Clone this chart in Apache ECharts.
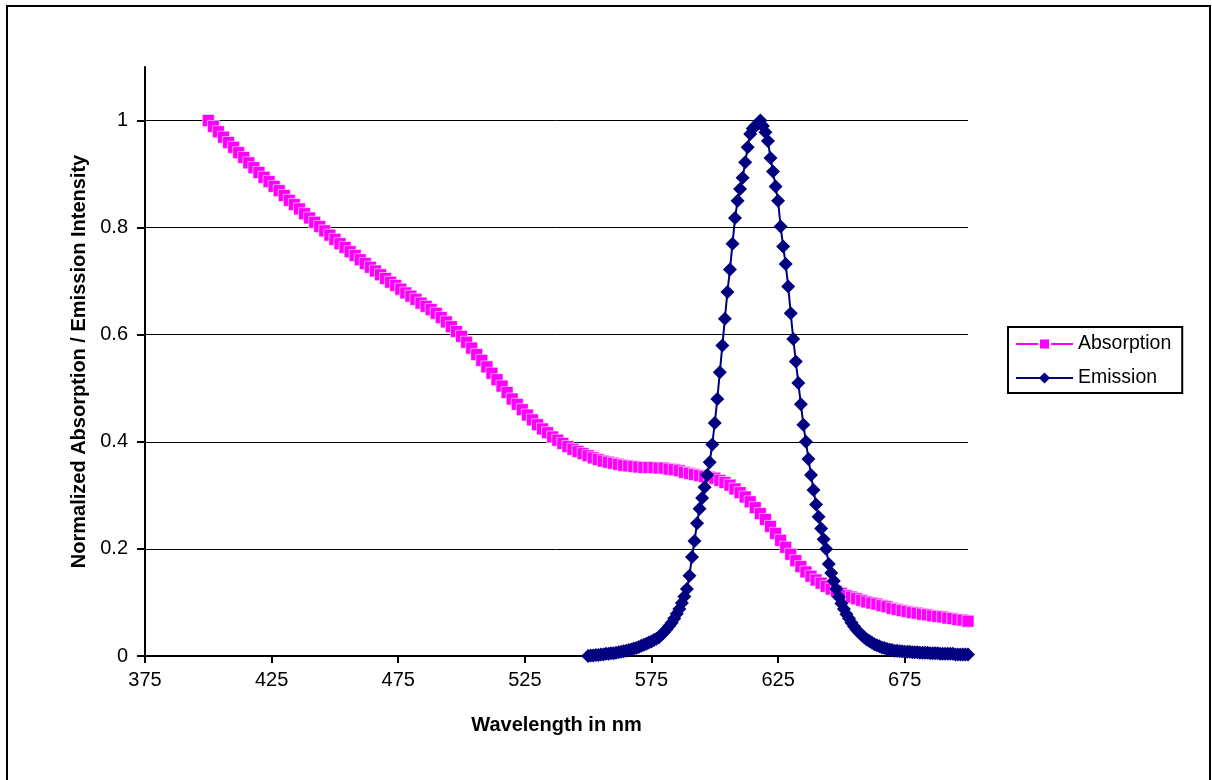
<!DOCTYPE html>
<html>
<head>
<meta charset="utf-8">
<script src="https://cdn.jsdelivr.net/npm/echarts@6/dist/echarts.min.js"></script>
<style>
html,body{margin:0;padding:0;background:#fff;}
#chart{width:1212px;height:780px;}
</style>
</head>
<body>
<div id="chart"></div>
<script>
// Absorption: sampled every 2 nm from 400 nm
const absStart = 400, absStep = 2;
const absorption = [
  1.000,0.989,0.979,0.969,0.959,0.950,0.940,0.931,0.921,0.912,
  0.903,0.894,0.886,0.877,0.869,0.860,0.851,0.843,0.835,0.826,
  0.818,0.810,0.802,0.794,0.786,0.778,0.770,0.763,0.755,0.748,
  0.740,0.733,0.726,0.719,0.712,0.705,0.698,0.692,0.685,0.678,
  0.672,0.666,0.659,0.653,0.647,0.640,0.632,0.624,0.615,0.606,
  0.597,0.586,0.575,0.563,0.552,0.540,0.528,0.516,0.504,0.492,
  0.480,0.470,0.460,0.450,0.441,0.432,0.424,0.417,0.409,0.403,
  0.397,0.391,0.386,0.382,0.378,0.374,0.370,0.367,0.364,0.362,
  0.360,0.358,0.356,0.355,0.354,0.353,0.352,0.352,0.352,0.351,
  0.351,0.349,0.348,0.346,0.343,0.341,0.339,0.337,0.335,0.334,
  0.332,0.328,0.324,0.319,0.312,0.305,0.297,0.288,0.277,0.266,
  0.255,0.242,0.229,0.216,0.203,0.190,0.178,0.167,0.157,0.149,
  0.142,0.136,0.130,0.125,0.121,0.117,0.113,0.110,0.107,0.104,
  0.101,0.099,0.097,0.094,0.092,0.089,0.087,0.085,0.083,0.081,
  0.080,0.078,0.077,0.075,0.074,0.073,0.071,0.070,0.068,0.067,
  0.065
];
// Emission: sampled every 1 nm from 550 nm
const emStart = 550, emStep = 1;
const emission = [
  0.000,0.001,0.001,0.002,0.002,0.003,0.003,0.004,0.004,0.005,
  0.005,0.006,0.007,0.008,0.009,0.010,0.011,0.012,0.014,0.015,
  0.017,0.019,0.021,0.023,0.025,0.027,0.030,0.032,0.035,0.040,
  0.045,0.050,0.056,0.062,0.070,0.079,0.088,0.099,0.111,0.125,
  0.150,0.185,0.215,0.248,0.275,0.295,0.315,0.338,0.362,0.395,
  0.435,0.480,0.530,0.580,0.630,0.680,0.722,0.770,0.818,0.850,
  0.872,0.893,0.922,0.950,0.975,0.985,0.990,0.994,1.000,0.990,
  0.978,0.962,0.930,0.905,0.877,0.850,0.802,0.765,0.732,0.690,
  0.640,0.592,0.550,0.510,0.470,0.432,0.400,0.368,0.338,0.310,
  0.283,0.260,0.238,0.218,0.200,0.172,0.155,0.140,0.125,0.110,
  0.098,0.088,0.078,0.070,0.062,0.055,0.049,0.044,0.039,0.035,
  0.031,0.028,0.025,0.022,0.020,0.018,0.016,0.015,0.013,0.012,
  0.011,0.010,0.010,0.009,0.009,0.008,0.008,0.008,0.007,0.007,
  0.007,0.006,0.006,0.006,0.006,0.005,0.005,0.005,0.005,0.004,
  0.004,0.004,0.004,0.004,0.004,0.003,0.003,0.003,0.003,0.003,
  0.003
];
const xTicks = [375, 425, 475, 525, 575, 625, 675];
const yTicks = [0, 0.2, 0.4, 0.6, 0.8, 1];
const seriesNames = ['Absorption', 'Emission'];

const absData = absorption.map((v, i) => [absStart + i * absStep, v]);
const emData = emission.map((v, i) => [emStart + i * emStep, v]);

const FONT = '"Liberation Sans", Arial, sans-serif';
const chart = echarts.init(document.getElementById('chart'), null, {renderer: 'canvas'});
chart.setOption({
  animation: false,
  backgroundColor: '#ffffff',
  graphic: [{
    type: 'rect',
    shape: {x: 7, y: 6, width: 1203, height: 820},
    style: {fill: 'none', stroke: '#000', lineWidth: 2},
    silent: true, z: -1
  }],
  grid: {left: 145, right: 244, top: 67, bottom: 124, containLabel: false, outerBoundsMode: 'none'},
  legend: {
    orient: 'vertical',
    left: 1008, top: 327,
    padding: [7, 11, 5, 7],
    itemGap: 14,
    itemWidth: 57, itemHeight: 14,
    borderColor: '#000', borderWidth: 2,
    textStyle: {fontFamily: FONT, fontSize: 19.5, color: '#000'},
    data: seriesNames
  },
  xAxis: {
    type: 'value',
    min: 375, max: 700, interval: 50,
    name: 'Wavelength in nm',
    nameLocation: 'middle', nameGap: 59,
    nameTextStyle: {fontFamily: FONT, fontSize: 20, fontWeight: 'bold', color: '#000'},
    axisLine: {show: true, onZero: false, lineStyle: {color: '#000', width: 2}},
    axisTick: {show: true, length: 7, lineStyle: {color: '#000', width: 2}, customValues: xTicks},
    axisLabel: {fontFamily: FONT, fontSize: 20, color: '#000', margin: 14, customValues: xTicks},
    splitLine: {show: false}
  },
  yAxis: {
    type: 'value',
    min: 0, max: 1.1, interval: 0.2,
    name: 'Normalized Absorption / Emission Intensity',
    nameLocation: 'middle', nameGap: 51,
    nameTextStyle: {fontFamily: FONT, fontSize: 20, fontWeight: 'bold', color: '#000'},
    axisLine: {show: true, lineStyle: {color: '#000', width: 2}},
    axisTick: {show: true, length: 8, lineStyle: {color: '#000', width: 2}, customValues: yTicks},
    axisLabel: {fontFamily: FONT, fontSize: 20, color: '#000', margin: 17, customValues: yTicks},
    splitLine: {show: true, showMinLine: false, lineStyle: {color: '#000', width: 1}}
  },
  series: [
    {
      name: seriesNames[0],
      type: 'line',
      data: absData,
      symbol: 'rect',
      symbolSize: 12,
      showAllSymbol: true,
      lineStyle: {color: '#FF00FF', width: 2},
      itemStyle: {color: '#FF00FF', borderColor: '#FFFFFF', borderWidth: 0.6},
      emphasis: {disabled: true},
      z: 2
    },
    {
      name: seriesNames[1],
      type: 'line',
      data: emData,
      symbol: 'diamond',
      symbolSize: 14,
      showAllSymbol: true,
      lineStyle: {color: '#000080', width: 2},
      itemStyle: {color: '#000080', borderColor: '#000080', borderWidth: 0},
      emphasis: {disabled: true},
      z: 3
    }
  ]
});
</script>
</body>
</html>
